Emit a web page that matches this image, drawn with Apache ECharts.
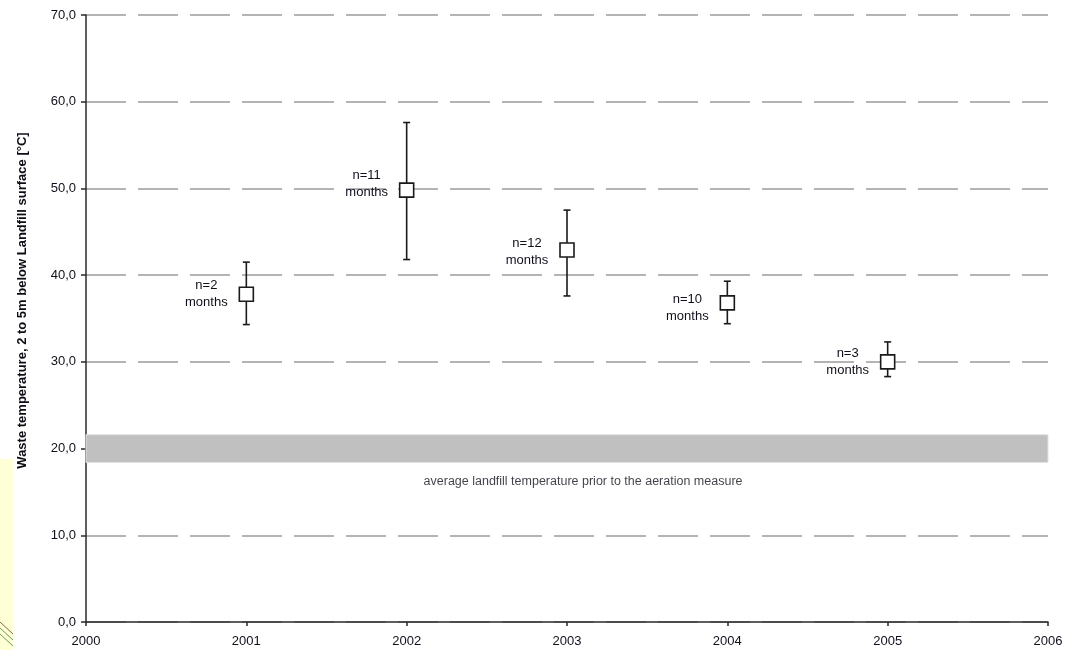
<!DOCTYPE html>
<html>
<head>
<meta charset="utf-8">
<script src="https://cdn.jsdelivr.net/npm/echarts@6/dist/echarts.min.js"></script>
<style>
  html, body { margin: 0; padding: 0; background: #fff; }
  #chart { width: 1068px; height: 650px; }
</style>
</head>
<body>
<div id="chart"></div>
<script>
// Yearly mean waste temperature with min/max range
const years = [2001, 2002, 2003, 2004, 2005];
const meanTemp = [37.8, 49.8, 42.9, 36.8, 30.0];
const maxTemp = [41.5, 57.6, 47.5, 39.3, 32.3];
const minTemp = [34.3, 41.8, 37.6, 34.4, 28.3];
const monthCounts = [2, 11, 12, 10, 3];

// Temperature band before aeration started
const baselineBand = [18.4, 21.6];
const baselineText = 'average landfill temperature prior to the aeration measure';

const yAxisTitle = 'Waste temperature, 2 to 5m below Landfill surface [\u00B0C]';
const labelLift = [0, -6, 2, 5, 0];

const FONT = 'Liberation Sans, Arial, sans-serif';
const TEXT = '#10101c';

const chart = echarts.init(document.getElementById('chart'));

chart.setOption({
  animation: false,
  backgroundColor: '#fff',
  grid: { left: 86, right: 20, top: 15, bottom: 28, containLabel: false },
  xAxis: {
    type: 'value',
    min: 2000, max: 2006, interval: 1,
    axisLine: { show: true, onZero: false, lineStyle: { color: '#2a2a2a', width: 1.5 } },
    axisTick: { show: true, length: 4, lineStyle: { color: '#2a2a2a', width: 1.5 } },
    axisLabel: { margin: 13, color: TEXT, fontFamily: FONT, fontSize: 13, formatter: v => String(v) },
    splitLine: { show: false }
  },
  yAxis: {
    type: 'value',
    min: 0, max: 70, interval: 10,
    name: yAxisTitle,
    nameLocation: 'middle',
    nameRotate: 90,
    nameGap: 57,
    nameTextStyle: { fontFamily: FONT, fontWeight: 'bold', fontSize: 13, color: '#0c0c14', padding: [0, 0, 0, 36] },
    axisLine: { show: true, lineStyle: { color: '#2a2a2a', width: 1.5 } },
    axisTick: { show: true, length: 5, lineStyle: { color: '#2a2a2a', width: 1.5 } },
    axisLabel: { margin: 10, color: TEXT, fontFamily: FONT, fontSize: 13,
      formatter: v => v.toFixed(1).replace('.', ',') },
    splitLine: { show: true, lineStyle: { color: '#9c9c9c', width: 1.6, type: [40, 12] } }
  },
  series: [
    {
      type: 'custom',
      name: 'range',
      z: 3,
      data: years.map((y, i) => [y, minTemp[i], maxTemp[i]]),
      renderItem: function (params, api) {
        const x = api.value(0);
        const lo = api.coord([x, api.value(1)]);
        const hi = api.coord([x, api.value(2)]);
        const cap = 3.5;
        const style = { stroke: '#1a1a1a', lineWidth: 1.6 };
        return {
          type: 'group',
          children: [
            { type: 'line', shape: { x1: lo[0], y1: lo[1], x2: hi[0], y2: hi[1] }, style },
            { type: 'line', shape: { x1: hi[0] - cap, y1: hi[1], x2: hi[0] + cap, y2: hi[1] }, style },
            { type: 'line', shape: { x1: lo[0] - cap, y1: lo[1], x2: lo[0] + cap, y2: lo[1] }, style }
          ]
        };
      },
      markArea: {
        silent: true,
        itemStyle: { color: '#c0c0c0', borderColor: '#e2e2e2', borderWidth: 1 },
        label: { show: false },
        data: [[{ yAxis: baselineBand[0] }, { yAxis: baselineBand[1] }]]
      }
    },
    {
      type: 'scatter',
      name: 'mean',
      z: 4,
      symbol: 'rect',
      symbolSize: 14,
      itemStyle: { color: '#fff', borderColor: '#1a1a1a', borderWidth: 1.6, opacity: 1 },
      data: years.map((y, i) => ({
        value: [y, meanTemp[i]],
        label: { offset: [-40, labelLift[i]] }
      })),
      label: {
        show: true,
        position: 'inside',
        align: 'center',
        verticalAlign: 'middle',
        color: TEXT,
        fontFamily: FONT,
        fontSize: 13,
        lineHeight: 17,
        formatter: p => 'n=' + monthCounts[p.dataIndex] + '\nmonths'
      }
    },
    {
      type: 'scatter',
      name: 'bandLabel',
      symbolSize: 0,
      silent: true,
      data: [[2003.1, baselineBand[0]]],
      label: {
        show: true,
        position: 'bottom',
        distance: 13,
        color: TEXT,
        fontFamily: FONT,
        fontSize: 12.5,
        formatter: () => baselineText
      }
    }
  ],
  graphic: [
    { type: 'rect', left: 0, top: 459, shape: { width: 13, height: 191 }, style: { fill: '#ffffd6' }, z: -1 },
    { type: 'line', shape: { x1: 0, y1: 622, x2: 13, y2: 634 }, style: { stroke: '#8a6a3a', lineWidth: 1 }, z: -1 },
    { type: 'line', shape: { x1: 0, y1: 628, x2: 13, y2: 640 }, style: { stroke: '#6a9a5a', lineWidth: 1 }, z: -1 },
    { type: 'line', shape: { x1: 0, y1: 634, x2: 13, y2: 646 }, style: { stroke: '#6a9a5a', lineWidth: 1 }, z: -1 }
  ]
});
</script>
</body>
</html>
